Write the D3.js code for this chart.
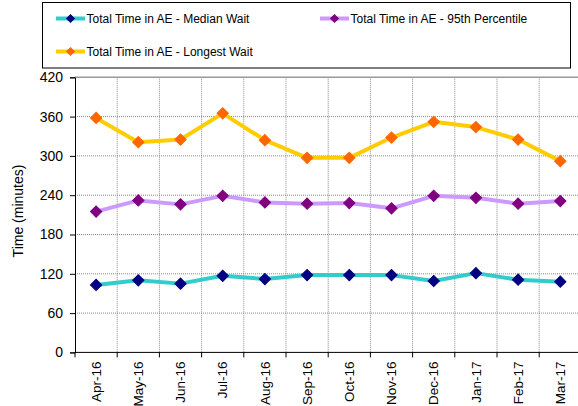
<!DOCTYPE html>
<html>
<head>
<meta charset="utf-8">
<script src="https://cdn.jsdelivr.net/npm/d3@7"></script>
<style>
  html, body { margin: 0; padding: 0; background: #fff; }
  svg { display: block; font-family: "Liberation Sans", Arial, sans-serif; }
</style>
</head>
<body>
<svg id="chart" width="578" height="406"></svg>
<script>
const categories = ["Apr-16","May-16","Jun-16","Jul-16","Aug-16","Sep-16","Oct-16","Nov-16","Dec-16","Jan-17","Feb-17","Mar-17"];
const medianWait = [103, 110, 105, 117, 112, 118, 118, 118, 109, 121, 111, 108];
const percentile95 = [215, 232, 226, 239, 229, 227, 228, 220, 239, 236, 227, 231];
const longestWait = [358, 321, 325, 365, 324, 297, 297, 328, 352, 344, 325, 292];
const yTicks = [0, 60, 120, 180, 240, 300, 360, 420];
const seriesNames = ["Total Time in AE - Median Wait", "Total Time in AE - 95th Percentile", "Total Time in AE - Longest Wait"];
const lineColors = ["#33CCCC", "#CC99FF", "#FFCC00"];
const markerColors = ["#000080", "#800080", "#FF6600"];

const series = [medianWait, percentile95, longestWait].map((values, i) => ({
  name: seriesNames[i], values, line: lineColors[i], marker: markerColors[i]
}));

const svg = d3.select("#chart");
const pLeft = 75, pRight = 581.4, pTop = 77.3, pBottom = 352.4;

const x = d3.scaleBand().domain(categories).range([pLeft, pRight]).padding(0);
const y = d3.scaleLinear().domain([0, 420]).range([pBottom, pTop]);

// gridlines
const grid = svg.append("g");
grid.selectAll("line.h").data(yTicks.filter(t => t > 0 && t < 420)).join("line")
  .attr("x1", pLeft).attr("x2", pRight)
  .attr("y1", d => y(d)).attr("y2", d => y(d))
  .attr("stroke", "#8a8a8a").attr("stroke-width", 1).attr("stroke-dasharray", "1,1");
grid.selectAll("line.v").data(categories.slice(1)).join("line")
  .attr("x1", d => x(d)).attr("x2", d => x(d))
  .attr("y1", pTop).attr("y2", pBottom)
  .attr("stroke", "#8a8a8a").attr("stroke-width", 1).attr("stroke-dasharray", "1,1");
// plot top border
svg.append("line").attr("x1", pLeft).attr("x2", pRight).attr("y1", y(420)).attr("y2", y(420))
  .attr("stroke", "#999").attr("stroke-width", 1.5);

// axes
const yAxis = d3.axisLeft(y).tickValues(yTicks).tickSize(5).tickPadding(7);
const gy = svg.append("g").attr("transform", `translate(${pLeft},0)`).call(yAxis);
gy.select(".domain").attr("stroke", "#000");
gy.selectAll(".tick line").attr("stroke", "#000");
gy.selectAll(".tick text").attr("font-size", "14px").attr("fill", "#000")
  .attr("font-family", '"Liberation Sans", Arial, sans-serif');

const gx = svg.append("g").attr("transform", `translate(0,${pBottom})`);
gx.append("line").attr("x1", pLeft).attr("x2", pRight).attr("y1", 0).attr("y2", 0).attr("stroke", "#000");
gx.selectAll("line.tk").data(categories.concat(["_end"])).join("line")
  .attr("x1", (d, i) => pLeft + i * x.bandwidth()).attr("x2", (d, i) => pLeft + i * x.bandwidth())
  .attr("y1", 0).attr("y2", 5).attr("stroke", "#000");
gx.selectAll("text").data(categories).join("text")
  .attr("transform", d => `translate(${x(d) + x.bandwidth() / 2},9) rotate(-90)`)
  .attr("text-anchor", "end").attr("dy", "0.35em")
  .attr("font-size", "13.5px").attr("fill", "#000")
  .text(d => d);

// y label
svg.append("text")
  .attr("transform", `translate(22.5,211) rotate(-90)`)
  .attr("text-anchor", "middle").attr("font-size", "14px").attr("fill", "#000")
  .text("Time (minutes)");

// lines and markers
const lineGen = d3.line().x((d, i) => x(categories[i]) + x.bandwidth() / 2).y(d => y(d));
const diamond = d3.symbol().type(d3.symbolSquare).size(64);
series.forEach(s => {
  svg.append("path").datum(s.values).attr("d", lineGen)
    .attr("fill", "none").attr("stroke", s.line).attr("stroke-width", 4).attr("stroke-linejoin", "round");
  svg.append("g").selectAll("path").data(s.values).join("path")
    .attr("transform", (d, i) => `translate(${x(categories[i]) + x.bandwidth() / 2},${y(d)}) rotate(45)`)
    .attr("d", diamond).attr("fill", s.marker).attr("stroke", s.marker).attr("stroke-width", 1);
});

// legend
const lg = svg.append("g");
lg.append("rect").attr("x", 42.5).attr("y", 2.5).attr("width", 528).attr("height", 65.5)
  .attr("fill", "#fff").attr("stroke", "#000").attr("stroke-width", 1);
const legendPos = [[56, 18.5], [320, 18.5], [56, 51.5]];
series.forEach((s, i) => {
  const [lx, ly] = legendPos[i];
  const g = lg.append("g").attr("transform", `translate(${lx},${ly})`);
  g.append("line").attr("x1", 0).attr("x2", 29).attr("y1", 0).attr("y2", 0)
    .attr("stroke", s.line).attr("stroke-width", 4);
  g.append("path").attr("transform", "translate(14.5,0) rotate(45)").attr("d", d3.symbol().type(d3.symbolSquare).size(30))
    .attr("fill", s.marker).attr("stroke", s.marker);
  g.append("text").attr("x", 30.5).attr("dy", "0.36em").attr("font-size", "12px").attr("fill", "#000")
    .text(s.name);
});
</script>
</body>
</html>
